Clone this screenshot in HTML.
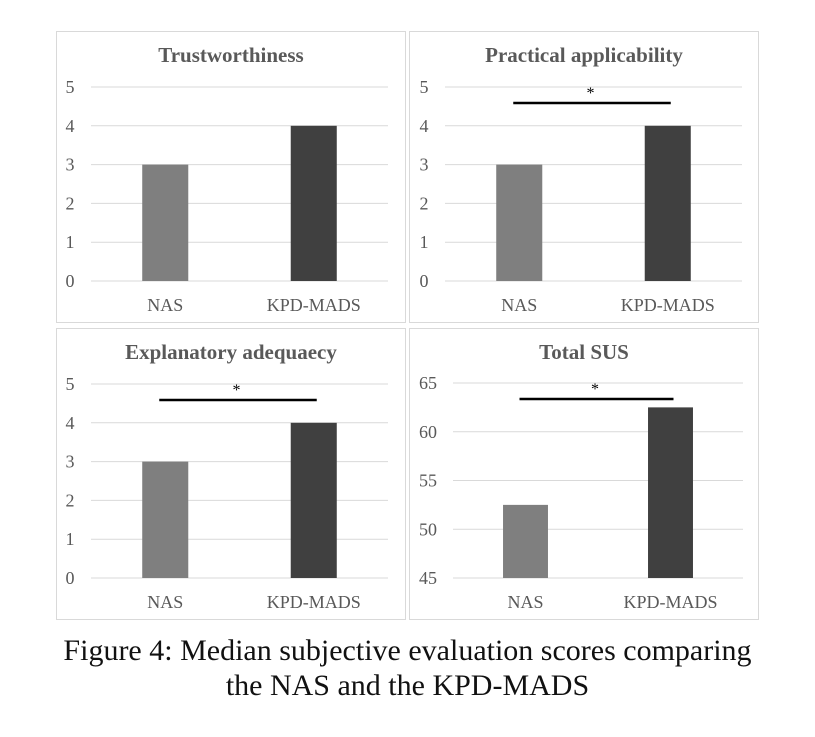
<!DOCTYPE html>
<html><head><meta charset="utf-8"><style>
body{margin:0;background:#fff;width:815px;height:737px;overflow:hidden;font-family:"Liberation Serif",serif}
svg{position:absolute;left:0;top:0}
#cap{position:absolute;left:0;top:633px;width:815px;text-align:center;font-size:30px;line-height:35px;color:#111}
</style></head><body>
<svg id="chart" width="815" height="737"></svg>
<div id="cap">Figure 4: Median subjective evaluation scores comparing<br>the NAS and the KPD-MADS</div>
<script>
const categories=["NAS","KPD-MADS"];
const titles=["Trustworthiness","Practical applicability","Explanatory adequaecy","Total SUS"];
const valuesTrust=[3,4];
const valuesPractical=[3,4];
const valuesExplanatory=[3,4];
const valuesSUS=[52.5,62.5];
const ticksScore=[0,1,2,3,4,5];
const ticksSUS=[45,50,55,60,65];
const significant=[false,true,true,true];

const svg=document.getElementById('chart');
const NS='http://www.w3.org/2000/svg';
function mk(t,a,p){const e=document.createElementNS(NS,t);for(const k in a)e.setAttribute(k,a[k]);(p||svg).appendChild(e);return e;}
const layout=[
 {bx:56,by:31,px0:91,px1:388,gy0:281,gy1:87,lx:70},
 {bx:409,by:31,px0:445,px1:742,gy0:281,gy1:87,lx:424},
 {bx:56,by:328,px0:91,px1:388,gy0:578,gy1:384,lx:70},
 {bx:409,by:328,px0:453,px1:743,gy0:578,gy1:383,lx:428}
];
const series=[valuesTrust,valuesPractical,valuesExplanatory,valuesSUS];
const tickSets=[ticksScore,ticksScore,ticksScore,ticksSUS];
const colors=["#7f7f7f","#404040"];
layout.forEach((L,i)=>{
 const g=mk('g',{});
 
 
 const fr=mk('rect',{x:L.bx+.5,y:L.by+.5,width:349,height:291,fill:'#fff',stroke:'#d9d9d9'},g);
 
 
 const ticks=tickSets[i],mn=ticks[0],mx=ticks[ticks.length-1];
 const y=v=>L.gy0-(v-mn)/(mx-mn)*(L.gy0-L.gy1);
 const t=mk('text',{x:L.bx+175,y:L.by+31,'text-anchor':'middle','font-size':21,'font-weight':'bold',fill:'#595959'},g);
 t.textContent=titles[i];
 
 
 ticks.forEach(v=>{
  const gl=mk('line',{x1:L.px0,x2:L.px1,y1:y(v),y2:y(v),stroke:'#d9d9d9','stroke-width':1},g);
  
  
  const tl=mk('text',{x:L.lx,y:y(v)+6,'text-anchor':'middle','font-size':18,fill:'#595959'},g);
  tl.textContent=v;
  
  
 });
 const bw=(L.px1-L.px0)/categories.length;
 const barW=bw*0.31;
 const vals=series[i];
 categories.forEach((c,j)=>{
  const cx=L.px0+bw*(j+0.5);
  const b=mk('rect',{x:cx-barW/2,y:y(vals[j]),width:barW,height:L.gy0-y(vals[j]),fill:colors[j]},g);
  
  
  const cl=mk('text',{x:cx,y:L.gy0+30,'text-anchor':'middle','font-size':18,fill:'#595959'},g);
  cl.textContent=c;
  
  
 });
 if(significant[i]){
  const x0=L.px0+bw*0.5,x1=L.px0+bw*1.5;
  const ly=L.gy1+16;
  const sl=mk('line',{x1:x0-6,x2:x1+3,y1:ly,y2:ly,stroke:'#000','stroke-width':2.5},g);
  
  
  const st=mk('text',{x:(x0+x1)/2-3,y:ly-5,'text-anchor':'middle','font-size':16,fill:'#000'},g);
  st.textContent='*';
  
  
 }
});
</script>
</body></html>
